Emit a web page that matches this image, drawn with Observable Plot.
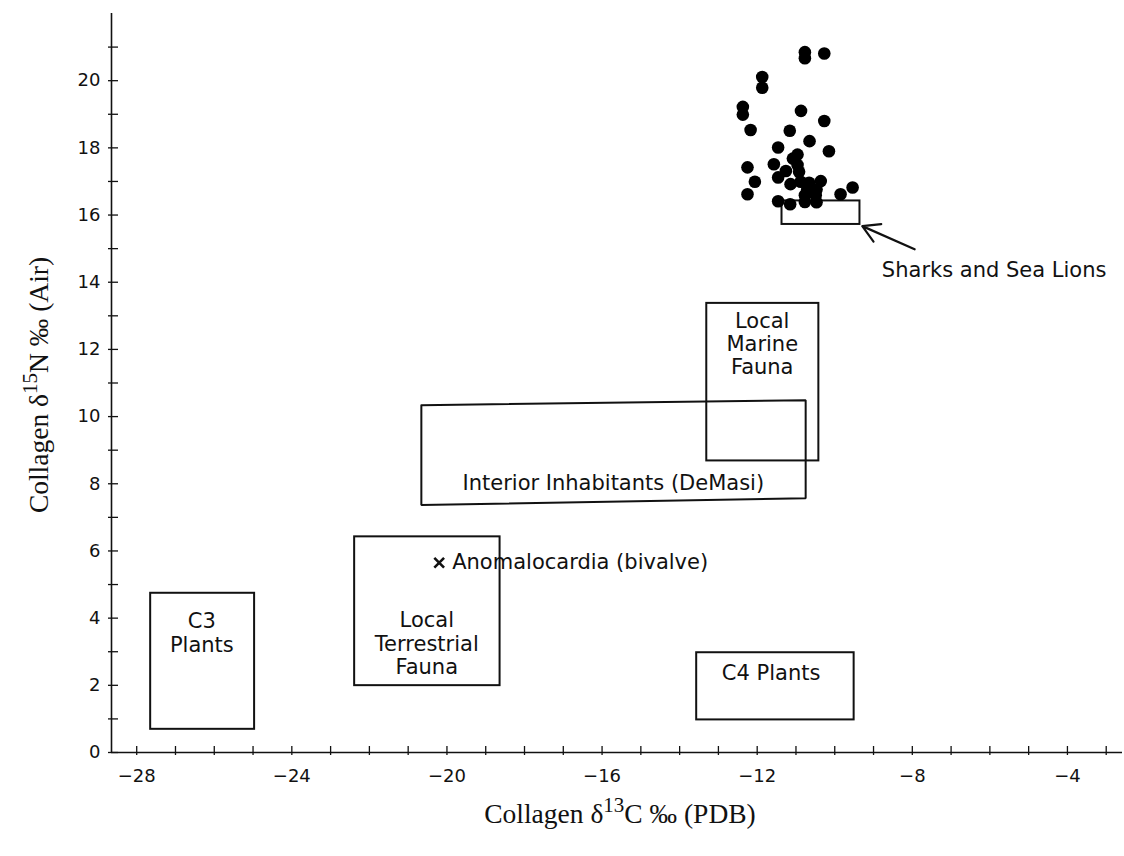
<!DOCTYPE html>
<html>
<head>
<meta charset="utf-8">
<script src="https://cdn.jsdelivr.net/npm/d3@7"></script>
<script src="https://cdn.jsdelivr.net/npm/@observablehq/plot@0.6"></script>
<style>
  html, body { margin: 0; padding: 0; background: #fff; }
  #chart { width: 1124px; height: 856px; }
</style>
</head>
<body>
<div id="chart"></div>
<script>
// Human bone collagen: δ13C (x) vs δ15N (y), per burial
const boneC13 = [-10.77, -10.77, -10.27, -11.87, -11.87, -12.37, -12.37, -10.87, -10.27, -12.17,
                 -11.16, -10.65, -11.46, -10.15, -10.96, -11.08, -12.25, -11.57, -10.96, -11.26,
                 -10.92, -12.06, -11.46, -11.14, -10.88, -10.66, -10.36, -10.71, -10.47, -9.54,
                 -12.25, -9.85, -10.77, -10.49, -11.46, -11.15, -10.77, -10.47];
const boneN15 = [20.85, 20.67, 20.81, 20.11, 19.79, 19.22, 18.99, 19.10, 18.80, 18.53,
                 18.51, 18.20, 18.01, 17.90, 17.80, 17.68, 17.42, 17.51, 17.49, 17.31,
                 17.29, 16.99, 17.12, 16.92, 16.99, 16.96, 17.01, 16.76, 16.76, 16.82,
                 16.62, 16.62, 16.59, 16.59, 16.41, 16.32, 16.39, 16.38];

// Reference ranges drawn as boxes
const rangeNames = ["C3 Plants", "Local Terrestrial Fauna", "Local Marine Fauna", "C4 Plants", "Sharks and Sea Lions"];
const rangeC13min = [-27.64, -22.38, -13.30, -13.56, -11.36];
const rangeC13max = [-24.96, -18.63, -10.41, -9.50, -9.35];
const rangeN15min = [0.69, 1.99, 8.68, 0.97, 15.72];
const rangeN15max = [4.74, 6.42, 13.37, 2.97, 16.42];

// Interior inhabitants (DeMasi) range outline, corner by corner
const interiorC13 = [-20.66, -10.75, -10.75, -20.66, -20.66];
const interiorN15 = [10.34, 10.49, 7.57, 7.37, 10.34];

// Anomalocardia (bivalve) single value
const bivalveC13 = [-20.20];
const bivalveN15 = [5.65];
const bivalveName = ["Anomalocardia (bivalve)"];

// Box captions
const captionText = ["C3\nPlants", "Local\nTerrestrial\nFauna", "Local\nMarine\nFauna",
                     "Interior Inhabitants (DeMasi)", "C4 Plants", "Sharks and Sea Lions"];
const captionC13 = [-26.32, -20.52, -11.87, -15.71, -11.64, -5.89];
const captionN15 = [3.57, 3.25, 12.18, 8.03, 2.38, 14.38];

// Pointer from the shark caption to its box
const pointerFrom = [-7.94, 14.98];
const pointerTo = [-9.29, 15.67];

// Axis ticks
const xMinorTicks = d3.range(-28, -2, 1);
const xLabelTicks = [-28, -24, -20, -16, -12, -8, -4];
const yMinorTicks = d3.range(0, 22, 1);
const yLabelTicks = [0, 2, 4, 6, 8, 10, 12, 14, 16, 18, 20];

// Axis titles, split around the superscript mass number
const xTitleParts = ["Collagen δ", "13", "C ‰ (PDB)"];
const yTitleParts = ["Collagen δ", "15", "N ‰ (Air)"];

const bone = boneC13.map((c, i) => ({c13: c, n15: boneN15[i]}));
const ranges = rangeNames.map((name, i) => ({
  name, x1: rangeC13min[i], x2: rangeC13max[i], y1: rangeN15min[i], y2: rangeN15max[i]
}));
const interior = interiorC13.map((c, i) => ({c13: c, n15: interiorN15[i]}));
const bivalve = bivalveC13.map((c, i) => ({c13: c, n15: bivalveN15[i], name: bivalveName[i]}));
const captions = captionText.map((t, i) => ({text: t, c13: captionC13[i], n15: captionN15[i]}));

const sans = "'DejaVu Sans', 'Lucida Grande', Verdana, sans-serif";
const serif = "'Liberation Serif', 'Times New Roman', Times, serif";
const ink = "#111";

const chart = Plot.plot({
  width: 1124,
  height: 856,
  marginLeft: 111,
  marginRight: 2,
  marginTop: 13,
  marginBottom: 104,
  style: {fontFamily: sans, fontSize: "18px", color: ink, background: "#fff"},
  x: {domain: [-28.65, -2.58], axis: null},
  y: {domain: [0, 22], axis: null},
  marks: [
    // axis lines
    Plot.ruleX([-28.65], {stroke: ink, strokeWidth: 1.6}),
    Plot.ruleY([0], {stroke: ink, strokeWidth: 1.6}),
    // tick marks crossing the axis lines
    Plot.axisX({ticks: xMinorTicks, tickSize: 9, dy: -6, tickFormat: () => "", stroke: ink, strokeWidth: 1.3}),
    Plot.axisY({ticks: yMinorTicks, tickSize: 10, dx: 7, tickFormat: () => "", stroke: ink, strokeWidth: 1.3}),
    // tick labels
    Plot.axisX({ticks: xLabelTicks, tickSize: 0, tickPadding: 17, fontSize: 18, fill: ink}),
    Plot.axisY({ticks: yLabelTicks, tickSize: 0, tickPadding: 11, fontSize: 18, fill: ink}),
    // axis titles
    Plot.text([xTitleParts.join("")], {frameAnchor: "bottom", textAnchor: "middle", dx: 3, dy: 70,
                                       fontFamily: serif, fontSize: 27.5, fill: ink}),
    Plot.text([yTitleParts.join("")], {frameAnchor: "left", textAnchor: "middle", rotate: -90, dx: -72, dy: 2,
                                       fontFamily: serif, fontSize: 27.5, fill: ink}),
    // reference ranges
    Plot.rect(ranges, {x1: "x1", x2: "x2", y1: "y1", y2: "y2", fill: "none", stroke: ink, strokeWidth: 2}),
    Plot.line(interior, {x: "c13", y: "n15", stroke: ink, strokeWidth: 2, strokeLinejoin: "miter"}),
    Plot.arrow([{x1: pointerFrom[0], y1: pointerFrom[1], x2: pointerTo[0], y2: pointerTo[1]}],
               {x1: "x1", y1: "y1", x2: "x2", y2: "y2", stroke: ink, strokeWidth: 2.2, headLength: 13, bend: 0}),
    Plot.text(captions, {x: "c13", y: "n15", text: "text", fontSize: 21, lineHeight: 1.11, fill: ink}),
    // bivalve value
    Plot.dot(bivalve, {x: "c13", y: "n15", symbol: "times", r: 4.5, stroke: ink, strokeWidth: 2.6}),
    Plot.text(bivalve, {x: "c13", y: "n15", text: "name", textAnchor: "start", dx: 13, fontSize: 21, fill: ink}),
    // individuals
    Plot.dot(bone, {x: "c13", y: "n15", r: 6.3, fill: "#000", stroke: "none"})
  ]
});

// Raise the mass numbers in the axis titles
d3.select(chart).selectAll("text").each(function () {
  const t = this.textContent;
  const parts = [xTitleParts, yTitleParts].find(p => p.join("") === t);
  if (!parts) return;
  const el = d3.select(this);
  el.text(null);
  el.append("tspan").text(parts[0]);
  el.append("tspan").attr("dy", -11).attr("font-size", 21).text(parts[1]);
  el.append("tspan").attr("dy", 11).text(parts[2]);
});

document.getElementById("chart").appendChild(chart);
</script>
</body>
</html>
